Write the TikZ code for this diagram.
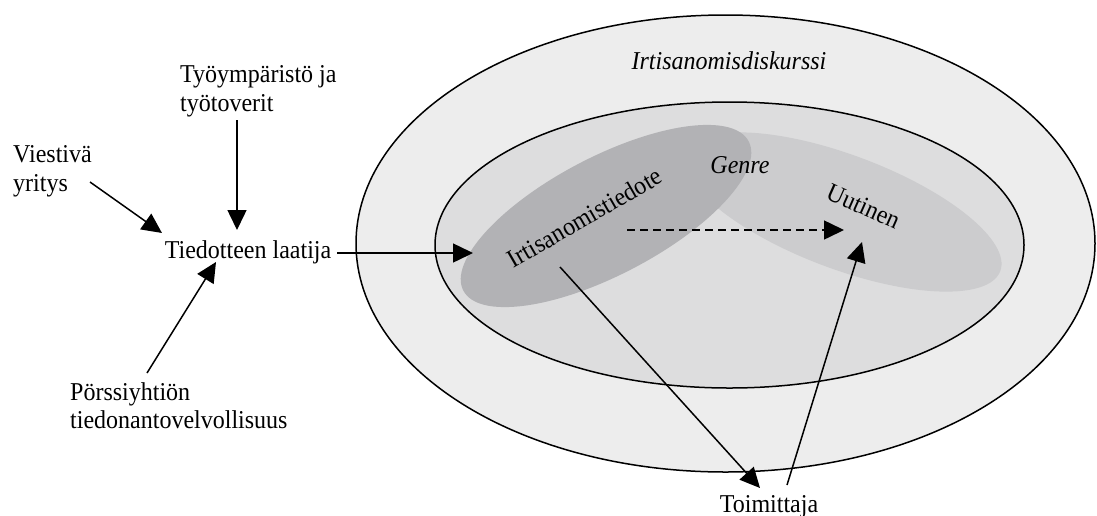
\documentclass[tikz,border=0pt]{standalone}
\usepackage{fontspec}
\setmainfont[FakeStretch=0.934]{Liberation Serif}
\usetikzlibrary{arrows.meta}
\definecolor{outerg}{RGB}{237,237,237}
\definecolor{innerg}{RGB}{221,221,222}
\definecolor{lightg}{RGB}{204,204,206}
\definecolor{darkg}{RGB}{178,178,181}
\begin{document}
\begin{tikzpicture}[x=1pt,y=-1pt,
  lbl/.style={inner sep=0pt, font=\fontsize{25.7}{28.8}\selectfont},
  arr/.style={-{Triangle[length=20pt,width=19pt]}, line width=1.5pt},
  ring/.style={draw=black, line width=1.5pt}]
\useasboundingbox (0,0) rectangle (1097,515);
% ellipses
\filldraw[ring, fill=outerg] (725.5,243.5) ellipse [x radius=369.5pt, y radius=228.5pt];
\filldraw[ring, fill=innerg] (729.5,245) ellipse [x radius=294.5pt, y radius=143pt];
\fill[lightg, rotate around={-20.6:(843,212)}] (843,212) ellipse [x radius=168pt, y radius=57pt];
\fill[darkg, rotate around={27.6:(606,216)}] (606,216) ellipse [x radius=161pt, y radius=59pt];
% texts
\node[lbl, anchor=base] (disk) at (729,69) {\itshape Irtisanomisdiskurssi};
\node[lbl, anchor=base] (genre) at (740,173) {\itshape Genre};
\node[lbl, anchor=base, rotate=30] (tiedote) at (589,225) {Irtisanomistiedote};
\node[lbl, anchor=base, rotate=-24] (uutinen) at (860,214) {Uutinen};
\node[lbl, anchor=base] (laatija) at (248,258) {Tiedotteen laatija};
\node[lbl, anchor=base] (toim) at (769,512) {Toimittaja};
\node[lbl, anchor=north west, align=left] (tyo) at (180,65.5) {Työympäristö ja\\työtoverit};
\node[lbl, anchor=north west, align=left] (viest) at (13,145.5) {Viestivä\\yritys};
\node[lbl, anchor=north west, align=left] (porssi) at (70,382) {Pörssiyhtiön\\tiedonantovelvollisuus};
% connector ends
\coordinate (tyoS) at (237,120);
\coordinate (tyoE) at (237,230);
\coordinate (viestS) at (90,182);
\coordinate (viestE) at (162,233);
\coordinate (porS) at (147,373);
\coordinate (porE) at (216,262);
\coordinate (laatS) at (337,253);
\coordinate (tiedIn) at (473,253);
\coordinate (dashS) at (627,230);
\coordinate (dashE) at (844,230);
\coordinate (tiedOut) at (560,267);
\coordinate (toimIn) at (760,488);
\coordinate (toimOut) at (787,485);
\coordinate (uutIn) at (862,242);
% connectors
\draw[arr] (tyoS) -- (tyoE);
\draw[arr] (viestS) -- (viestE);
\draw[arr] (porS) -- (porE);
\draw[arr] (laatS) -- (tiedIn);
\draw[arr, dash pattern=on 8pt off 5pt] (dashS) -- (dashE);
\draw[arr] (tiedOut) -- (toimIn);
\draw[arr] (toimOut) -- (uutIn);
\end{tikzpicture}
\end{document}
